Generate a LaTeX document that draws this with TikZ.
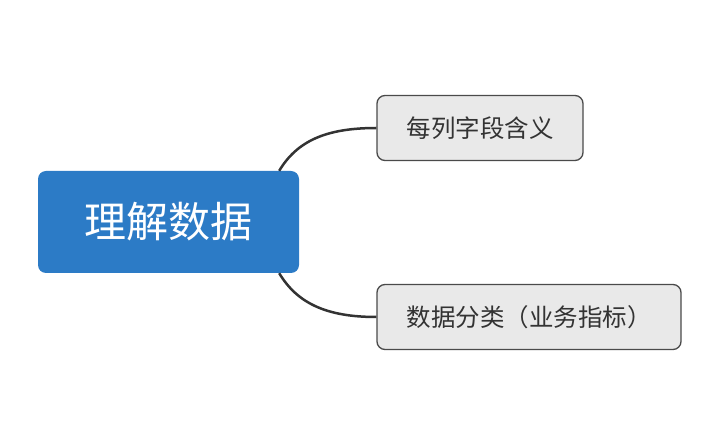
\documentclass[tikz,border=0pt]{standalone}
\usepackage{fontspec}
\newfontfamily\cjk{Noto Sans CJK SC}
\definecolor{mainblue}{HTML}{2C7BC6}
\definecolor{subfill}{HTML}{E9E9E9}
\definecolor{subdraw}{HTML}{4A4A4A}
\definecolor{linec}{HTML}{333333}
\definecolor{txtc}{HTML}{333333}
\begin{document}
\begin{tikzpicture}[x=1pt,y=-1pt,
  mainbox/.style={fill=mainblue,rounded corners=8pt,minimum width=261pt,minimum height=102pt,inner sep=0pt,text=white,font=\cjk\fontsize{42}{50}\selectfont},
  subbox/.style={fill=subfill,draw=subdraw,line width=1.3pt,rounded corners=8pt,minimum height=65pt,inner sep=0pt,text=txtc,font=\cjk\fontsize{24.5}{29}\selectfont},
  conn/.style={draw=linec,line width=2.5pt}]
\useasboundingbox (0,0) rectangle (720,443);
\node[mainbox] (center) at (168.5,222) {理解数据};
\node[subbox,minimum width=206pt] (top) at (480,128) {每列字段含义};
\node[subbox,minimum width=304pt] (bot) at (529,317) {数据分类（业务指标）};
\draw[conn] ([xshift=-20pt]center.north east) .. controls +(18,-30) and +(-50,0) .. (top.west);
\draw[conn] ([xshift=-20pt]center.south east) .. controls +(18,30) and +(-50,0) .. (bot.west);
\end{tikzpicture}
\end{document}
